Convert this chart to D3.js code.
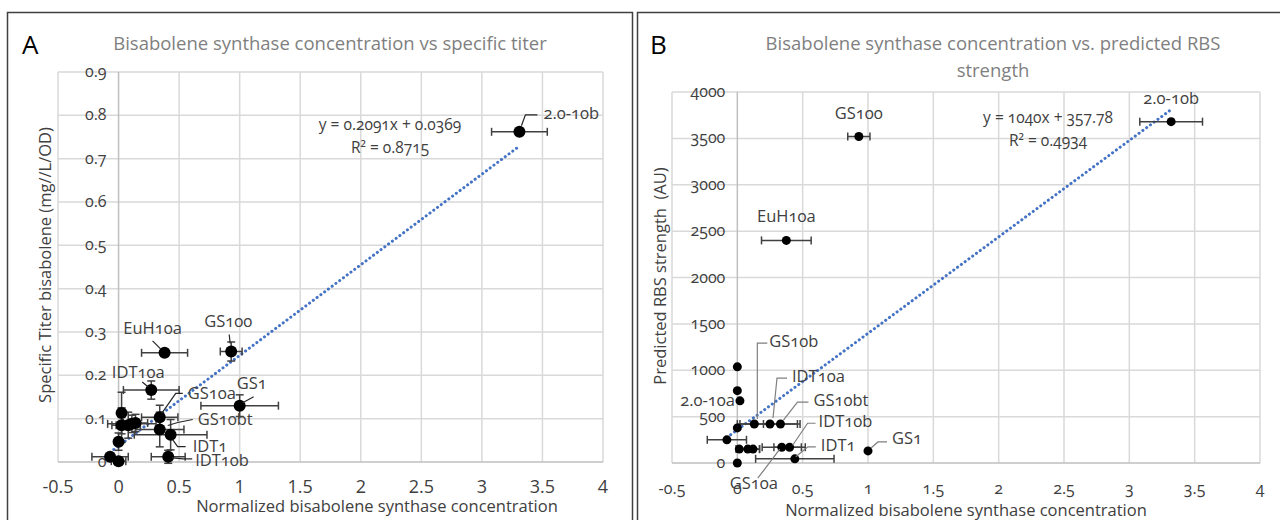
<!DOCTYPE html>
<html>
<head>
<meta charset="utf-8">
<script src="https://cdn.jsdelivr.net/npm/d3@7"></script>
<style>
  body { margin: 0; background: #fff; }
  svg { display: block; font-family: "Open Sans", sans-serif; }
  .onum { font-variant-numeric: oldstyle-nums; }
</style>
</head>
<body>
<svg id="chart" width="1280" height="520"></svg>
<script>
'use strict'

// ---- data ----
const xTicks = [-0.5, 0, 0.5, 1, 1.5, 2, 2.5, 3, 3.5, 4]
const yTicksA = [0, 0.1, 0.2, 0.3, 0.4, 0.5, 0.6, 0.7, 0.8, 0.9]
const yTicksB = [0, 500, 1000, 1500, 2000, 2500, 3000, 3500, 4000]

// panel A: specific titer
const namesA = ['', '', '', '', '', '', '', '', 'IDT10a', 'GS10a', 'GS10bt', 'IDT1', 'IDT10b', 'EuH10a', 'GS100', 'GS1', '2.0-10b']
const xA     = [-0.07, 0.0, 0.025, 0.0, 0.025, 0.08, 0.11, 0.14, 0.27, 0.34, 0.34, 0.43, 0.41, 0.38, 0.93, 1.0, 3.31]
const yA     = [0.012, 0.002, 0.113, 0.047, 0.085, 0.085, 0.088, 0.09, 0.166, 0.103, 0.075, 0.063, 0.012, 0.252, 0.255, 0.13, 0.762]
const xErrA  = [0.15, 0.06, 0.03, 0.02, 0.08, 0.1, 0.2, 0.1, 0.23, 0.15, 0.2, 0.3, 0.14, 0.19, 0.09, 0.32, 0.23]
const yErrA  = [0.004, 0.005, 0.048, 0.02, 0.04, 0.03, 0.02, 0.02, 0.021, 0.028, 0.04, 0.035, 0.015, 0, 0.022, 0.025, 0]

// panel B: predicted RBS strength
const namesB = ['', '', '2.0-10a', '', 'GS10b', 'IDT10a', 'GS10bt', '', '', '', '', 'GS10a', 'IDT10b', '', 'IDT1', 'GS1', 'EuH10a', 'GS100', '2.0-10b']
const xB     = [0, 0, 0.02, 0, 0.13, 0.25, 0.33, -0.08, 0.015, 0.08, 0.12, 0.34, 0.40, 0, 0.44, 1.0, 0.375, 0.93, 3.32]
const yB     = [1037, 780, 670, 378, 420, 420, 420, 250, 150, 150, 150, 170, 170, 0, 45, 130, 2400, 3520, 3680]
const xErrB  = [0, 0, 0, 0, 0.13, 0.23, 0.13, 0.15, 0, 0.09, 0.05, 0.15, 0.12, 0, 0.3, 0, 0.19, 0.085, 0.24]

const fitA = [0.2091, 0.0369]
const fitB = [1040, 357.78]
const eqA = ['y = 0.2091x + 0.0369', 'R² = 0.8715']
const eqB = ['y = 1040x + 357.78', 'R² = 0.4934']

// ---- layout ----
const svg = d3.select('#chart')
const gridCol = '#d9d9d9', axisCol = '#bfbfbf', textCol = '#404040'

// panel frames
svg.append('rect').attr('x', 7.5).attr('y', 12.5).attr('width', 625).attr('height', 520)
  .attr('fill', 'none').attr('stroke', '#404040').attr('stroke-width', 1.5)
svg.append('rect').attr('x', 637.5).attr('y', 12.5).attr('width', 660).attr('height', 520)
  .attr('fill', 'none').attr('stroke', '#404040').attr('stroke-width', 1.5)

// label placements (pixel offsets from the point)
const labA = {
  'EuH10a': {dx: -12, dy: -19, a: 'middle', l: [[-12, -12], [-4, -4]]},
  'GS100':  {dx: -3, dy: -25, a: 'middle', l: [[-2, -17], [-1, -8]]},
  'IDT10a': {dx: -13, dy: -12, a: 'middle', l: [[-9, -8], [-3, -3]]},
  'GS10a':  {dx: 28, dy: -18, a: 'start', l: [[2, -4], [16, -24], [23, -24]]},
  'GS10bt': {dx: 38, dy: -5, a: 'start', l: [[8, -4], [18, -7], [33, -10]]},
  'IDT1':   {dx: 22, dy: 17, a: 'start', l: [[2, 5], [7, 12], [15, 12]]},
  'IDT10b': {dx: 27, dy: 9, a: 'start', l: [[4, 1], [15, 2], [24, 2]]},
  'GS1':    {dx: 12, dy: -17, a: 'middle', l: [[3, -3], [14, -9]]},
  '2.0-10b': {dx: 24, dy: -13, a: 'start', l: [[2, -6], [6, -17], [18, -17]]}
}
const labB = {
  'GS10b':  {dx: 15, dy: -77, a: 'start', l: [[13, -81], [3, -81], [3, -5]]},
  'IDT10a': {dx: 22, dy: -42, a: 'start', l: [[17, -46], [7, -46], [3, -6]]},
  'GS10bt': {dx: 33, dy: -18, a: 'start', l: [[28, -22], [17, -22], [3, -4]]},
  'IDT10b': {dx: 29, dy: -20, a: 'start', l: [[26, -24], [18, -24], [3, -2]]},
  'IDT1':   {dx: 26, dy: -8, a: 'start', l: [[21, -12], [13, -12], [1, -2]]},
  'GS1':    {dx: 24, dy: -7, a: 'start', l: [[3, -3], [10, -9], [19, -9]]},
  'GS10a':  {dx: -28, dy: 42, a: 'middle', l: [[-24, 31], [-2, 2]]},
  '2.0-10a': {dx: -5, dy: 5, a: 'end', l: null},
  'EuH10a': {dx: 0, dy: -18, a: 'middle', l: null},
  'GS100':  {dx: 0, dy: -18, a: 'middle', l: null},
  '2.0-10b': {dx: 0, dy: -18, a: 'middle', l: null}
}

function panel(o) {
  const g = svg.append('g')
  const x = d3.scaleLinear().domain([-0.5, 4]).range(o.xr)
  const y = d3.scaleLinear().domain([0, o.yMax]).range(o.yr)

  // grid
  g.append('g').selectAll('line').data(o.yTicks.slice(1)).join('line')
    .attr('x1', o.xr[0]).attr('x2', o.xr[1])
    .attr('y1', d => y(d)).attr('y2', d => y(d))
    .attr('stroke', gridCol).attr('stroke-width', 1.5)
  g.append('g').selectAll('line').data(xTicks.filter(d => d !== 0)).join('line')
    .attr('x1', d => x(d)).attr('x2', d => x(d))
    .attr('y1', o.yr[0]).attr('y2', o.yr[1])
    .attr('stroke', gridCol).attr('stroke-width', 1.5)
  // axis lines crossing at 0
  g.append('line').attr('x1', o.xr[0]).attr('x2', o.xr[1]).attr('y1', y(0)).attr('y2', y(0))
    .attr('stroke', axisCol).attr('stroke-width', 1.5)
  g.append('line').attr('x1', x(0)).attr('x2', x(0)).attr('y1', o.yr[0]).attr('y2', o.yr[1])
    .attr('stroke', axisCol).attr('stroke-width', 1.5)

  // y tick labels, next to the vertical axis at x=0
  g.append('g').selectAll('text').data(o.yTicks).join('text')
    .attr('class', 'onum')
    .attr('x', x(0) - 12).attr('y', d => y(d) + 5)
    .attr('text-anchor', 'end').attr('font-size', 16).attr('fill', textCol)
    .text(d => d3.format(o.yFmt)(d))

  // x tick labels
  g.append('g').selectAll('text').data(xTicks).join('text')
    .attr('class', o.xOnum ? 'onum' : null)
    .attr('x', d => x(d)).attr('y', o.yr[0] + o.xTickDy)
    .attr('text-anchor', 'middle').attr('font-size', o.xTickSize).attr('fill', textCol)
    .text(d => d)

  // trendline
  const ext = d3.extent(o.xs)
  g.append('line')
    .attr('x1', x(ext[0])).attr('y1', y(o.fit[0] * ext[0] + o.fit[1]))
    .attr('x2', x(ext[1])).attr('y2', y(o.fit[0] * ext[1] + o.fit[1]))
    .attr('stroke', '#4472c4').attr('stroke-width', 3)
    .attr('stroke-dasharray', '0.1 4.6').attr('stroke-linecap', 'round')

  // error bars
  const eb = g.append('g').attr('stroke', '#404040').attr('stroke-width', 1.5)
  o.xs.forEach((xv, i) => {
    const ex = o.xErr[i], cy = y(o.ys[i])
    if (ex > 0) {
      eb.append('line').attr('x1', x(xv - ex)).attr('x2', x(xv + ex)).attr('y1', cy).attr('y2', cy)
      eb.append('line').attr('x1', x(xv - ex)).attr('x2', x(xv - ex)).attr('y1', cy - 4).attr('y2', cy + 4)
      eb.append('line').attr('x1', x(xv + ex)).attr('x2', x(xv + ex)).attr('y1', cy - 4).attr('y2', cy + 4)
    }
    const ey = o.yErr ? o.yErr[i] : 0
    if (ey > 0) {
      const cx = x(xv)
      eb.append('line').attr('x1', cx).attr('x2', cx).attr('y1', y(o.ys[i] - ey)).attr('y2', y(o.ys[i] + ey))
      eb.append('line').attr('x1', cx - 4).attr('x2', cx + 4).attr('y1', y(o.ys[i] - ey)).attr('y2', y(o.ys[i] - ey))
      eb.append('line').attr('x1', cx - 4).attr('x2', cx + 4).attr('y1', y(o.ys[i] + ey)).attr('y2', y(o.ys[i] + ey))
    }
  })

  // points
  g.append('g').selectAll('circle').data(o.xs).join('circle')
    .attr('cx', d => x(d)).attr('cy', (d, i) => y(o.ys[i]))
    .attr('r', o.r).attr('fill', '#000')

  // point labels + leader lines
  o.names.forEach((n, i) => {
    if (!n) return
    const p = o.lab[n], cx = x(o.xs[i]), cy = y(o.ys[i])
    if (p.l) {
      g.append('polyline')
        .attr('points', p.l.map(q => [cx + q[0], cy + q[1]]).join(' '))
        .attr('fill', 'none').attr('stroke', o.leadCol).attr('stroke-width', 1.2)
    }
    g.append('text').attr('class', 'onum')
      .attr('x', cx + p.dx).attr('y', cy + p.dy)
      .attr('text-anchor', p.a).attr('font-size', 16.5).attr('fill', textCol)
      .text(n)
  })

  // regression equation
  g.append('g').selectAll('text').data(o.eq).join('text')
    .attr('class', 'onum')
    .attr('x', o.eqPos[0]).attr('y', (d, i) => o.eqPos[1] + i * 23)
    .attr('text-anchor', 'middle').attr('font-size', 15.5).attr('fill', textCol)
    .text(d => d)

  // titles
  g.append('text').attr('x', o.letter[0]).attr('y', o.letter[1])
    .attr('font-size', 26).attr('fill', '#000').text(o.letterText)
  g.append('g').selectAll('text').data(o.title).join('text')
    .attr('x', o.titlePos[0]).attr('y', (d, i) => o.titlePos[1] + i * 27)
    .attr('text-anchor', 'middle').attr('font-size', 18.5).attr('fill', '#7f7f7f')
    .text(d => d)
  g.append('text').attr('x', o.xTitlePos[0]).attr('y', o.xTitlePos[1])
    .attr('text-anchor', 'middle').attr('font-size', 16.5).attr('fill', textCol)
    .text('Normalized bisabolene synthase concentration')
  g.append('text')
    .attr('transform', 'translate(' + o.yTitlePos + ') rotate(-90)')
    .attr('text-anchor', 'middle').attr('font-size', 16.5).attr('fill', textCol)
    .attr('xml:space', 'preserve')
    .text(o.yTitle)
}

panel({
  xr: [58, 603], yr: [462, 72], yMax: 0.9, yTicks: yTicksA, yFmt: '',
  xTickDy: 31, xTickSize: 18, xOnum: false,
  xs: xA, ys: yA, xErr: xErrA, yErr: yErrA, names: namesA, lab: labA, r: 6, leadCol: '#262626',
  fit: fitA, eq: eqA, eqPos: [390, 130],
  letter: [22, 54], letterText: 'A',
  title: ['Bisabolene synthase concentration vs specific titer'], titlePos: [330, 50],
  xTitlePos: [377, 512], yTitlePos: [51, 265], yTitle: 'Specific Titer bisabolene (mg//L/OD)'
})

panel({
  xr: [672, 1260], yr: [463, 92], yMax: 4000, yTicks: yTicksB, yFmt: '',
  xTickDy: 31, xTickSize: 16, xOnum: true,
  xs: xB, ys: yB, xErr: xErrB, yErr: null, names: namesB, lab: labB, r: 4.5, leadCol: '#7f7f7f',
  fit: fitB, eq: eqB, eqPos: [1048, 123],
  letter: [650, 54], letterText: 'B',
  title: ['Bisabolene synthase concentration vs. predicted RBS', 'strength'], titlePos: [993, 50],
  xTitlePos: [966, 516], yTitlePos: [666, 276], yTitle: 'Predicted RBS strength  (AU)'
})
</script>
</body>
</html>
